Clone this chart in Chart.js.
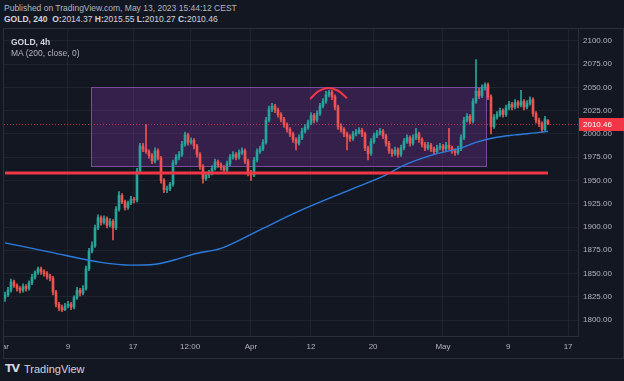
<!DOCTYPE html>
<html><head><meta charset="utf-8">
<script src="https://cdn.jsdelivr.net/npm/chart.js@4"></script>
<style>
html,body{margin:0;padding:0;background:#131722;width:624px;height:381px;overflow:hidden;font-family:'Liberation Sans',Arial,sans-serif;}
.t{position:absolute;white-space:nowrap;line-height:10px;}
#h1{left:4px;top:3px;font-size:8.5px;color:#b2b5be;}
#h2{left:4px;top:14px;font-size:8.5px;color:#d1d4dc;}
#h2 b{font-weight:bold;}
#panel{position:absolute;left:3px;top:28px;width:619px;height:329px;border:1px solid #2a2e39;}
#wrap{position:absolute;left:4px;top:29px;width:620px;height:329px;}
#leg1{left:11px;top:37px;font-size:8.5px;color:#d1d4dc;font-weight:bold;}
#leg2{left:11px;top:48px;font-size:8.5px;color:#b2b5be;}
#logo{left:5px;top:362px;font-family:'DejaVu Sans',sans-serif;font-weight:900;font-size:11px;color:#d1d4dc;letter-spacing:-1px;line-height:14px;}
#brand{left:24px;top:362px;font-size:11px;color:#d1d4dc;line-height:14px;}
</style></head>
<body>
<div class="t" id="h1">Published on TradingView.com, May 13, 2023 15:44:12 CEST</div>
<div class="t" id="h2"><b>GOLD, 240</b>&nbsp; <b>O:</b>2014.37 <b>H:</b>2015.55 <b>L:</b>2010.27 <b>C:</b>2010.46</div>
<div id="panel"></div>
<div id="wrap"><canvas id="c" width="620" height="329" style="width:620px;height:329px"></canvas></div>
<div class="t" id="leg1">GOLD, 4h</div>
<div class="t" id="leg2">MA (200, close, 0)</div>
<div class="t" id="logo">TV</div>
<div class="t" id="brand">TradingView</div>
<script>
const opens = [
1824,1827,1832,1841,1837,1834,1832,1836,1834,1840,
1846,1851,1855,1852,1850,1847,1845,1830,1817,1813,
1811,1815,1817,1814,1824,1832,1829,1834,1855,1874,
1880,1899,1910,1905,1909,1902,1906,1899,1919,1934,
1927,1921,1926,1930,1929,1960,1987,1984,1981,1977,
1971,1982,1974,1950,1940,1941,1946,1969,1975,1978,
1989,1999,1991,1993,1987,1978,1965,1952,1956,1958,
1963,1970,1967,1964,1961,1968,1975,1978,1975,1980,
1982,1971,1958,1956,1972,1981,1984,1991,2015,2027,
2030,2026,2021,2016,2010,2005,2000,1994,1990,1996,
2003,2007,2012,2020,2015,2022,2030,2035,2042,2045,
2040,2029,2008,2005,2000,1997,1995,2000,2002,2004,
2000,1985,1979,1992,1998,2001,2003,1998,1990,1982,
1979,1983,1978,1985,1992,1996,1990,1996,2000,1994,
1989,1985,1988,1984,1981,1985,1987,1984,1988,1985,
1982,1980,1984,1996,2015,2019,2014,2035,2046,2041,
2050,2053,2040,2008,2018,2021,2025,2021,2028,2032,
2029,2034,2031,2035,2029,2033,2037,2022,2015,2011,
2005,2014.37];
const highs = [
1830,1835,1844,1843,1839,1836,1839,1838,1842,1849,
1853,1857,1857,1854,1852,1849,1847,1832,1819,1816,
1818,1820,1819,1826,1835,1834,1837,1858,1877,1884,
1902,1913,1912,1912,1911,1909,1908,1922,1938,1936,
1929,1928,1933,1932,1963,1990,1990,2010,1983,1979,
1985,1984,1976,1952,1944,1948,1972,1978,1981,1992,
2002,2001,1996,1995,1989,1980,1967,1959,1961,1966,
1973,1972,1969,1966,1971,1978,1981,1980,1983,1985,
1984,1973,1961,1975,1984,1987,1994,2018,2030,2033,
2032,2028,2023,2018,2012,2007,2002,1996,1999,2006,
2010,2015,2023,2022,2025,2033,2038,2046,2047,2047,
2042,2031,2011,2007,2002,1999,2003,2005,2007,2006,
2002,1987,1995,2001,2004,2006,2005,2000,1992,1984,
1986,1985,1988,1995,1999,1998,1999,2006,2002,1996,
1991,1991,1990,1986,1988,1990,1989,1991,2006,1987,
1984,1987,1999,2018,2022,2021,2038,2080,2049,2053,
2055,2055,2042,2021,2024,2028,2027,2031,2035,2034,
2037,2036,2047,2037,2036,2040,2039,2024,2017,2013,
2019,2015.55];
const lows = [
1820,1825,1830,1835,1831,1829,1830,1831,1832,1838,
1844,1849,1849,1847,1844,1842,1827,1814,1810,1809,
1810,1813,1811,1812,1822,1826,1827,1832,1853,1872,
1878,1897,1902,1903,1899,1900,1886,1897,1917,1925,
1918,1919,1924,1926,1927,1958,1981,1979,1974,1968,
1969,1972,1947,1937,1937,1939,1944,1967,1972,1976,
1987,1988,1989,1984,1975,1962,1947,1950,1953,1956,
1961,1964,1961,1958,1959,1966,1973,1972,1973,1978,
1968,1955,1950,1954,1970,1979,1982,1989,2013,2024,
2023,2018,2013,2007,2002,1997,1991,1983,1988,1994,
2001,2005,2010,2012,2013,2020,2028,2033,2040,2037,
2026,2005,2002,1997,1983,1992,1993,1998,2000,1997,
1982,1972,1977,1990,1996,1999,1995,1987,1979,1976,
1977,1975,1976,1983,1990,1987,1988,1994,1991,1986,
1982,1983,1981,1978,1979,1983,1981,1982,1983,1979,
1977,1978,1982,1994,2013,2011,2012,2033,2038,2039,
2047,2037,2000,2006,2016,2019,2018,2019,2026,2026,
2027,2028,2029,2026,2027,2031,2019,2012,2008,2002,
2003,2010.27];
const closes = [
1827,1832,1841,1837,1834,1832,1836,1834,1840,1846,
1851,1855,1852,1850,1847,1845,1830,1817,1813,1811,
1815,1817,1814,1824,1832,1829,1834,1855,1874,1880,
1899,1910,1905,1909,1902,1906,1899,1919,1934,1927,
1921,1926,1930,1929,1960,1987,1984,1981,1977,1971,
1982,1974,1950,1940,1941,1946,1969,1975,1978,1989,
1999,1991,1993,1987,1978,1965,1952,1956,1958,1963,
1970,1967,1964,1961,1968,1975,1978,1975,1980,1982,
1971,1958,1956,1972,1981,1984,1991,2015,2027,2030,
2026,2021,2016,2010,2005,2000,1994,1990,1996,2003,
2007,2012,2020,2015,2022,2030,2035,2042,2045,2040,
2029,2008,2005,2000,1997,1995,2000,2002,2004,2000,
1985,1979,1992,1998,2001,2003,1998,1990,1982,1979,
1983,1978,1985,1992,1996,1990,1996,2000,1994,1989,
1985,1988,1984,1981,1985,1987,1984,1988,1985,1982,
1980,1984,1996,2015,2019,2014,2035,2046,2041,2050,
2053,2040,2008,2018,2021,2025,2021,2028,2032,2029,
2034,2031,2035,2029,2033,2037,2022,2015,2011,2005,
2016,2010.46];

const maIndex  = [0,15,32,42,50,58,63,72,85,98,115,127,132,142,152,157,163,170,179,181];
const maValues = [1883,1873,1862,1859,1860,1866,1871,1877,1897,1917,1940,1956,1965,1977,1985,1991,1996,1999,2002,2003];

const priceTicks = [1800,1825,1850,1875,1900,1925,1950,1975,2000,2025,2050,2075,2100];
const xTickIndex  = [-1,21,42.7,61.7,82,102,122.7,146,167.7,187.7];
const xTickLabels = ['Mar','9','17','12:00','Apr','12','20','May','9','17'];

const supportLevel = 1958, supportFrom = 0, supportTo = 181;
const boxStart = 28.7, boxEnd = 160.3, boxTop = 2050.5, boxBottom = 1965.6;
const arcIndex = [101.7,104.5,107.7,111,114];
const arcPrice = [2037.5,2046,2049.5,2046.5,2038.5];

const UP = '#26a69a', DOWN = '#ef5350', RED = '#f23645';
const idx = closes.map((_, i) => i);
const colors = idx.map(i => closes[i] >= opens[i] ? UP : DOWN);
const lastClose = closes[closes.length - 1];

Chart.defaults.font.family = "'Liberation Sans', Arial, sans-serif";
Chart.defaults.font.size = 8;
Chart.defaults.color = '#b2b5be';

const overlay = {
  id: 'overlay',
  beforeDatasetsDraw(chart) {
    const {ctx, chartArea: a, scales: {x, y}} = chart;
    ctx.save();
    ctx.beginPath(); ctx.rect(a.left, a.top, a.right - a.left, a.bottom - a.top); ctx.clip();
    const x0 = Math.round(x.getPixelForValue(boxStart)), x1 = Math.round(x.getPixelForValue(boxEnd));
    const y0 = Math.round(y.getPixelForValue(boxTop)), y1 = Math.round(y.getPixelForValue(boxBottom));
    ctx.fillStyle = 'rgba(150,60,200,0.25)';
    ctx.fillRect(x0, y0, x1 - x0, y1 - y0);
    ctx.strokeStyle = '#7d4a9c'; ctx.lineWidth = 1;
    ctx.strokeRect(x0 + 0.5, y0 + 0.5, x1 - x0, y1 - y0);
    const yl = Math.round(y.getPixelForValue(lastClose)) + 0.5;
    ctx.setLineDash([1, 2]); ctx.strokeStyle = 'rgba(242,54,69,0.75)';
    ctx.beginPath(); ctx.moveTo(a.left, yl); ctx.lineTo(a.right, yl); ctx.stroke();
    ctx.restore();
  },
  afterDraw(chart) {
    const {ctx, chartArea: a, scales: {y}} = chart;
    const yl = Math.round(y.getPixelForValue(lastClose));
    ctx.save();
    ctx.fillStyle = RED;
    ctx.fillRect(a.right + 1, yl - 6, 45, 13);
    ctx.fillStyle = '#ffffff'; ctx.font = "8px 'Liberation Sans', Arial, sans-serif";
    ctx.textBaseline = 'middle'; ctx.textAlign = 'left';
    ctx.fillText(lastClose.toFixed(2), a.right + 5, yl + 0.5);
    ctx.restore();
  }
};

new Chart(document.getElementById('c'), {
  type: 'bar',
  data: {
    datasets: [
      {type: 'line', label: 'Support', data: [{x: supportFrom, y: supportLevel}, {x: supportTo, y: supportLevel}],
       borderColor: RED, borderWidth: 3, pointRadius: 0, order: 0},
      {type: 'line', label: 'Arc', data: arcIndex.map((v, k) => ({x: v, y: arcPrice[k]})),
       borderColor: RED, borderWidth: 2, pointRadius: 0, tension: 0.4, order: 0},
      {type: 'line', label: 'MA', data: maIndex.map((v, k) => ({x: v, y: maValues[k]})),
       borderColor: '#2d7ce0', borderWidth: 1.4, pointRadius: 0, cubicInterpolationMode: 'monotone', order: 1},
      {type: 'bar', label: 'Bodies', data: idx.map(i => ({x: i, y: [opens[i], closes[i]]})),
       backgroundColor: colors, barThickness: 2, minBarLength: 1, grouped: false, order: 2},
      {type: 'bar', label: 'Wicks', data: idx.map(i => ({x: i, y: [lows[i], highs[i]]})),
       backgroundColor: colors, barThickness: 1, grouped: false, order: 3}
    ]
  },
  options: {
    responsive: false, animation: false, devicePixelRatio: 1, events: [],
    layout: {padding: 0},
    plugins: {legend: {display: false}, tooltip: {enabled: false}},
    scales: {
      x: {
        type: 'linear', min: -0.333, max: 191, offset: false,
        grid: {color: 'rgba(42,46,57,0.55)', offset: false, drawTicks: false},
        border: {display: true, color: '#2a2e39'},
        ticks: {autoSkip: false, maxRotation: 0, padding: 6, color: '#b2b5be',
                callback: (v, k) => xTickLabels[k]},
        afterBuildTicks: s => { s.ticks = xTickIndex.map(v => ({value: v})); },
        afterFit: s => { s.height = 22; s.paddingLeft = 0; s.paddingRight = 0; }
      },
      y: {
        position: 'right', min: 1782.8, max: 2112.9,
        grid: {color: 'rgba(42,46,57,0.55)', drawTicks: false},
        border: {display: true, color: '#2a2e39'},
        ticks: {padding: 5, color: '#b2b5be', callback: v => Number(v).toFixed(2)},
        afterBuildTicks: s => { s.ticks = priceTicks.map(v => ({value: v})); },
        afterFit: s => { s.width = 46; s.paddingTop = 0; s.paddingBottom = 0; }
      }
    }
  },
  plugins: [overlay]
});
</script>
</body></html>
